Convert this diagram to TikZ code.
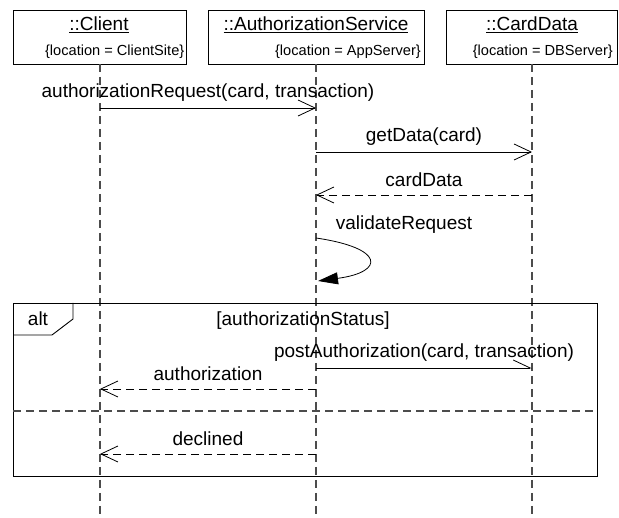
\documentclass[tikz,border=0pt]{standalone}
\usepackage{fontspec}
\setmainfont{Liberation Sans}
\usetikzlibrary{arrows.meta}
\begin{document}
\begin{tikzpicture}[x=1pt,y=-1pt,
  lbl/.style={font=\fontsize{19}{22}\selectfont, inner sep=0pt},
  small/.style={font=\fontsize{14.6}{17}\selectfont, inner sep=0pt},
  headbox/.style={draw, line width=0.9pt, minimum height=54pt, inner sep=0pt},
  lifeline/.style={draw=black!70, line width=1.1pt, dash pattern=on 8pt off 5pt},
  msg/.style={draw, line width=0.8pt, -{Straight Barb[length=17pt,width=16pt,line width=0.8pt]}},
  halfmsg/.style={draw, line width=0.8pt, -{Straight Barb[length=17pt,width=16pt,line width=0.8pt,harpoon]}},
  ret/.style={msg, dash pattern=on 8pt off 5pt},
  selfmsg/.style={draw, line width=0.8pt, -{Triangle[length=20pt,width=12pt]}},
  frame/.style={draw, line width=0.9pt},
  sep/.style={draw=black!70, line width=1.1pt, dash pattern=on 8pt off 5pt},
  lift/.style={yshift=15pt}
]
\useasboundingbox (0,0) rectangle (619,518);

% heads
\node[headbox, minimum width=173pt] (client) at (99.5,37) {};
\node[headbox, minimum width=216pt] (auth) at (316,37) {};
\node[headbox, minimum width=171pt] (card) at (531.5,37) {};
\node[lbl] (clientT) at (99,25) {\underline{::Client}};
\node[lbl] (authT) at (316,25) {\underline{::AuthorizationService}};
\node[lbl] (cardT) at (532,25) {\underline{::CardData}};
\node[small, anchor=east] (clientL) at (184.5,52) {\{location = ClientSite\}};
\node[small, anchor=east] (authL) at (421,52) {\{location = AppServer\}};
\node[small, anchor=east] (cardL) at (613,52) {\{location = DBServer\}};

% lifelines
\coordinate (cTop) at (100,64);  \coordinate (cBot) at (100,518);
\coordinate (aTop) at (316,64);  \coordinate (aBot) at (316,518);
\coordinate (dTop) at (532,64);  \coordinate (dBot) at (532,518);
\draw[lifeline] (cTop) -- (cBot);
\draw[lifeline] (aTop) -- (aBot);
\draw[lifeline] (dTop) -- (dBot);

% message points
\coordinate (c1) at (100,108); \coordinate (a1) at (316,108);
\coordinate (a2) at (316,152); \coordinate (d2) at (532,152);
\coordinate (a3) at (316,195); \coordinate (d3) at (532,195);
\coordinate (v1) at (316,238); \coordinate (v2) at (318,281);
\coordinate (a5) at (316,368); \coordinate (d5) at (532,368);
\coordinate (a6) at (316,389); \coordinate (c6) at (100,389);
\coordinate (a7) at (316,454); \coordinate (c7) at (100,454);

\draw[msg] (c1) -- node[lbl, lift] (m1) {authorizationRequest(card, transaction)} (a1);
\draw[msg] (a2) -- node[lbl, lift] (m2) {getData(card)} (d2);
\draw[ret] (d3) -- node[lbl, lift] (m3) {cardData} (a3);
\draw[selfmsg] (v1) .. controls (385,248) and (385,272) .. (v2);
\node[lbl] (m4) at (404,225) {validateRequest};

% alt frame
\node[frame, minimum width=584pt, minimum height=173pt, inner sep=0pt] (alt) at (305,389.5) {};
\draw[frame] (13,335) -- (52,335) -- (73,319) -- (73,303);
\node[lbl] (altT) at (38,319) {alt};
\node[lbl] (guard) at (303,321) {[authorizationStatus]};
\coordinate (s1) at (13,411); \coordinate (s2) at (597,411);
\draw[sep] (s1) -- (s2);

\draw[halfmsg] (a5) -- node[lbl, lift] (m5) {postAuthorization(card, transaction)} (d5);
\draw[ret] (a6) -- node[lbl, lift] (m6) {authorization} (c6);
\draw[ret] (a7) -- node[lbl, lift] (m7) {declined} (c7);
\end{tikzpicture}
\end{document}
